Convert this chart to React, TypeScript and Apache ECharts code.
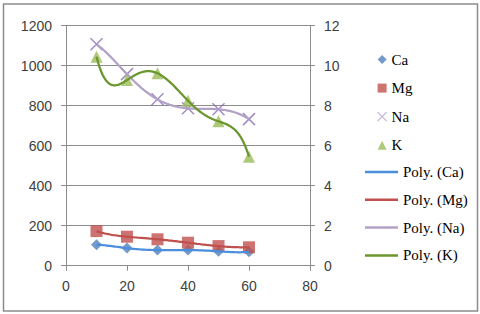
import React, { useEffect, useRef } from "react";
import * as echarts from "echarts";

// ---- data ----
const xValues = [10, 20, 30, 40, 50, 60];
const caValues = [105, 88, 78, 78, 72, 70];
const mgValues = [173, 145, 132, 115, 98, 92];
const naValues = [1107, 958, 832, 787, 782, 733];
const kValues = [1045, 928, 962, 825, 722, 545];
const seriesNames = ["Ca", "Mg", "Na", "K"];
const trendNames = ["Poly. (Ca)", "Poly. (Mg)", "Poly. (Na)", "Poly. (K)"];
const POLY_ORDER = 5;

// least-squares polynomial trendline (as Excel's "Poly." trendline)
function polyFit(xs: number[], ys: number[], order: number) {
  const cx = 35, sx = 25;
  const n = order + 1;
  const A: number[][] = [];
  for (let i = 0; i < n; i++) {
    A.push(new Array(n + 1).fill(0));
  }
  xs.forEach((x, k) => {
    const t = (x - cx) / sx;
    for (let i = 0; i < n; i++) {
      for (let j = 0; j < n; j++) A[i][j] += Math.pow(t, i + j);
      A[i][n] += Math.pow(t, i) * ys[k];
    }
  });
  for (let i = 0; i < n; i++) {
    let p = i;
    for (let r = i + 1; r < n; r++) if (Math.abs(A[r][i]) > Math.abs(A[p][i])) p = r;
    [A[i], A[p]] = [A[p], A[i]];
    for (let r = 0; r < n; r++) {
      if (r === i) continue;
      const f = A[r][i] / A[i][i];
      for (let c = i; c <= n; c++) A[r][c] -= f * A[i][c];
    }
  }
  const coef = A.map((row, i) => row[n] / row[i]);
  return (x: number) => {
    const t = (x - cx) / sx;
    let v = 0;
    for (let i = 0; i < n; i++) v += coef[i] * Math.pow(t, i);
    return v;
  };
}

function trend(ys: number[]) {
  const f = polyFit(xValues, ys, POLY_ORDER);
  const pts: number[][] = [];
  const x0 = xValues[0], x1 = xValues[xValues.length - 1];
  const steps = 100;
  for (let i = 0; i <= steps; i++) {
    const x = x0 + ((x1 - x0) * i) / steps;
    pts.push([x, f(x)]);
  }
  return pts;
}

const pair = (ys: number[]) => xValues.map((x, i) => [x, ys[i]]);

const CROSS = "path://M0,0L10,10M10,0L0,10";

export default function App() {
  const ref = useRef<HTMLDivElement>(null);
  useEffect(() => {
    if (!ref.current) return;
    const chart = echarts.init(ref.current, null, { renderer: "svg" });
    const axisFont = { fontFamily: "Liberation Sans", fontSize: 14, color: "#404040" };
    const gridLine = { lineStyle: { color: "#8c8c8c", width: 1 } };
    const axisLine = { show: true, lineStyle: { color: "#8c8c8c", width: 1 } };
    const legendText = { fontFamily: "Liberation Serif", fontSize: 15, color: "#000", lineHeight: 14 };
    const markerColors = ["#4F81BD", "#C0504D", "#8A6FB5", "#9BBB59"];
    const lineColors = ["#4A8EDC", "#C0504D", "#B3A2C7", "#6A962E"];
    const allVals = [caValues, mgValues, naValues, kValues];
    const plain = (v: number) => String(v);

    chart.setOption({
      animation: false,
      backgroundColor: "#fff",
      grid: { left: 66, right: 170, top: 25.7, bottom: 48.3, containLabel: false },
      xAxis: {
        type: "value",
        min: 0,
        max: 80,
        interval: 20,
        axisLine,
        axisTick: { show: true, length: 5, lineStyle: { color: "#8c8c8c" } },
        axisLabel: { ...axisFont, margin: 13, formatter: plain },
        splitLine: { show: false },
      },
      yAxis: [
        {
          type: "value",
          min: 0,
          max: 1200,
          interval: 200,
          axisLine,
          axisTick: { show: true, length: 5, lineStyle: { color: "#8c8c8c" } },
          axisLabel: { ...axisFont, margin: 14, formatter: plain },
          splitLine: { show: true, ...gridLine },
        },
        {
          type: "value",
          min: 0,
          max: 12,
          interval: 2,
          position: "right",
          axisLine,
          axisTick: { show: true, length: 5, lineStyle: { color: "#8c8c8c" } },
          axisLabel: { ...axisFont, margin: 14, formatter: plain },
          splitLine: { show: false },
        },
      ],
      legend: [
        {
          orient: "vertical",
          left: 372,
          top: 47,
          itemWidth: 9,
          itemHeight: 9,
          itemGap: 13.6,
          textStyle: legendText,
          data: [
            { name: "Ca", icon: "diamond" },
            { name: "Mg", icon: "rect" },
            { name: "Na", icon: CROSS, itemStyle: { color: "transparent", borderColor: "#B3A2C7", borderWidth: 1.2 } },
            { name: "K", icon: "triangle" },
          ],
          selectedMode: false,
        },
        {
          orient: "vertical",
          left: 360,
          top: 159.5,
          itemWidth: 33,
          itemHeight: 2.5,
          itemGap: 12.8,
          textStyle: legendText,
          data: trendNames.map((name) => ({ name, icon: "rect" })),
          selectedMode: false,
        },
      ],
      series: [
        ...seriesNames.map((name, i) => ({
          name,
          type: "scatter",
          data: pair(allVals[i]),
          symbol: i === 0 ? "diamond" : i === 1 ? "rect" : i === 2 ? CROSS : "triangle",
          symbolSize: i === 0 ? 11 : 12,
          itemStyle:
            i === 2
              ? { color: "transparent", borderColor: markerColors[i], borderWidth: 1.5 }
              : { color: markerColors[i] },
          z: 2,
        })),
        ...trendNames.map((name, i) => ({
          name,
          type: "line",
          data: trend(allVals[i]),
          symbol: "none",
          showSymbol: false,
          lineStyle: { color: lineColors[i], width: 2.25 },
          itemStyle: { color: lineColors[i] },
          z: 3,
        })),
      ],
      graphic: [
        {
          type: "rect",
          shape: { x: 3.5, y: 4, width: 474, height: 307 },
          style: { fill: "none", stroke: "#8c8c8c", lineWidth: 1.5 },
          silent: true,
        },
      ],
    });
    return () => chart.dispose();
  }, []);
  return (
    <div
      ref={ref}
      style={{ position: "absolute", left: 0, top: 0, width: 480, height: 314 }}
    />
  );
}
